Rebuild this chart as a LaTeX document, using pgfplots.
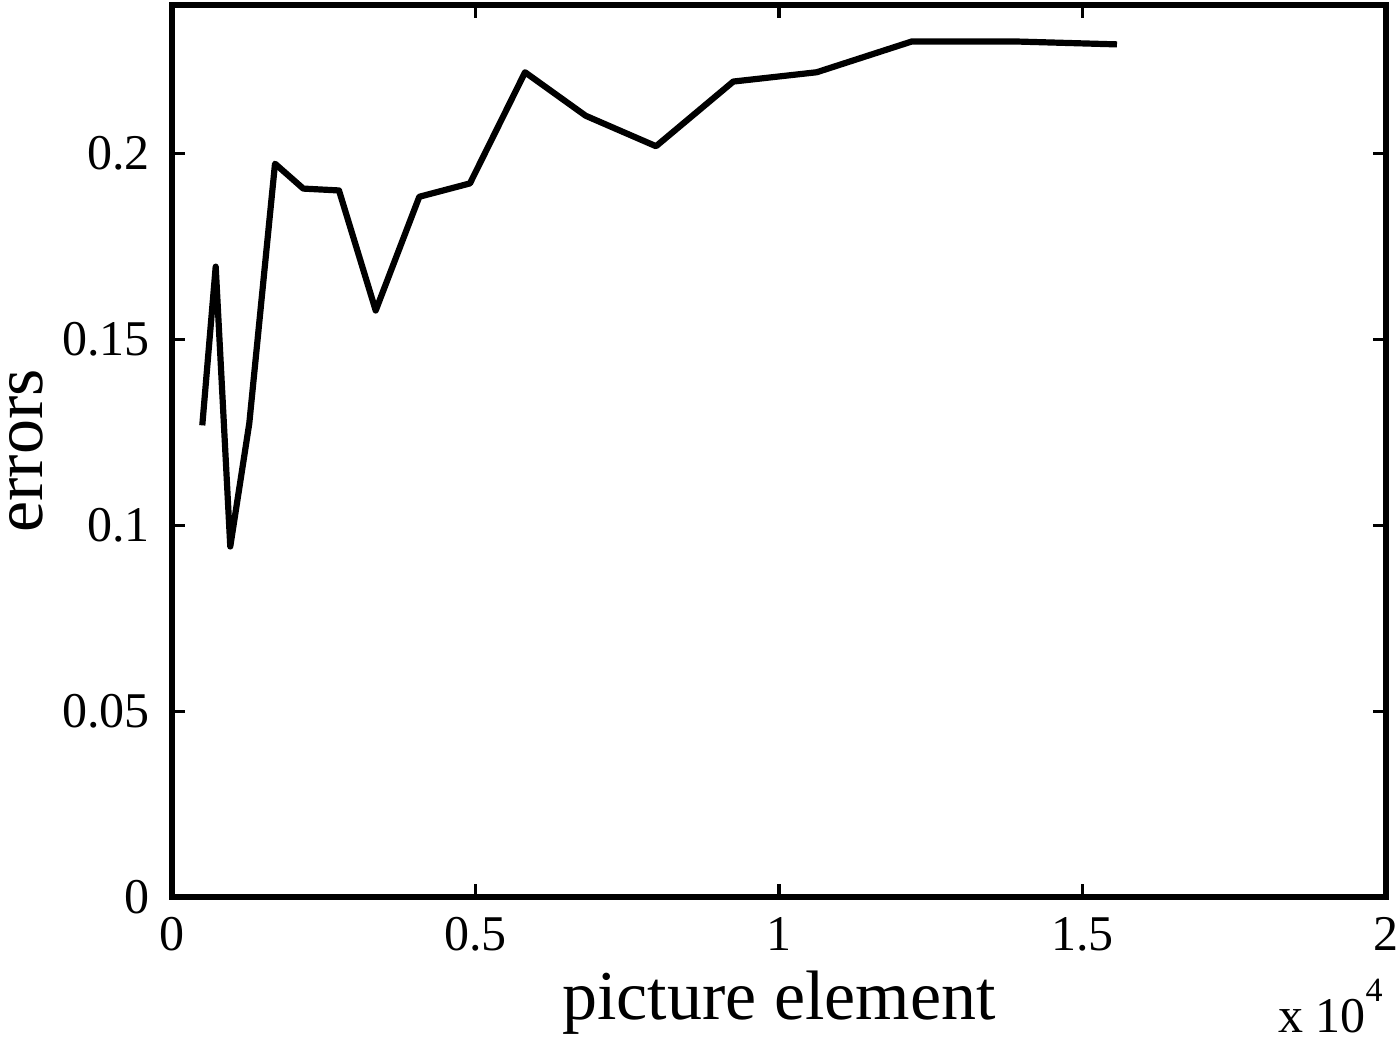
\documentclass[border=0pt]{standalone}
\usepackage{pgfplots}
\pgfplotsset{compat=1.18}
\usepackage{fontspec}
\setmainfont{Liberation Serif}
\begin{document}
\begin{tikzpicture}
\useasboundingbox (-86pt,-72.5pt) rectangle (614pt,448.5pt);
\begin{axis}[
  at={(0,0)}, anchor=south west,
  scale only axis,
  width=607pt, height=446pt,
  xmin=0, xmax=20000, ymin=0, ymax=0.24,
  axis line style={line width=2.8pt},
  xtick={0,5000,10000,15000,20000},
  xticklabels={0,0.5,1,1.5,2},
  ytick={0,0.05,0.1,0.15,0.2},
  yticklabels={0,0.05,0.1,0.15,0.2},
  scaled x ticks=false, scaled y ticks=false,
  tick align=inside,
  major tick length=6.5pt,
  every tick/.style={black, line width=1.6pt},
  tick label style={font=\fontsize{25}{30}\selectfont},
  /pgf/number format/assume math mode=true,
  xticklabel style={anchor=base, yshift=-27pt},
  yticklabel style={anchor=east, inner sep=0pt, xshift=-11pt},
  clip=false,
]
\addplot[black, line width=3.1pt, line join=round] coordinates {
(499,0.1269) (720,0.1696) (960,0.0943) (1273,0.1274) (1697,0.1973)
(2163,0.1906) (2751,0.1901) (3356,0.1578) (4074,0.1884) (4909,0.1920)
(5816,0.2219) (6815,0.2102) (7974,0.2020) (9247,0.2194) (10621,0.2219)
(12191,0.2302) (13855,0.2302) (15568,0.2294)
};
\end{axis}
\node[anchor=base, inner sep=0pt, font=\fontsize{35}{42}\selectfont] at (303.5pt,-61.5pt) {picture element};
\node[anchor=base, rotate=90, inner sep=0pt, font=\fontsize{35}{42}\selectfont] at (-64.5pt,223pt) {errors};
\node[anchor=base east, inner sep=0pt, font=\fontsize{25}{30}\selectfont] at (605.5pt,-67.9pt) {x 10\raisebox{15.5pt}{\fontsize{17}{20}\selectfont 4}};
\end{tikzpicture}
\end{document}
